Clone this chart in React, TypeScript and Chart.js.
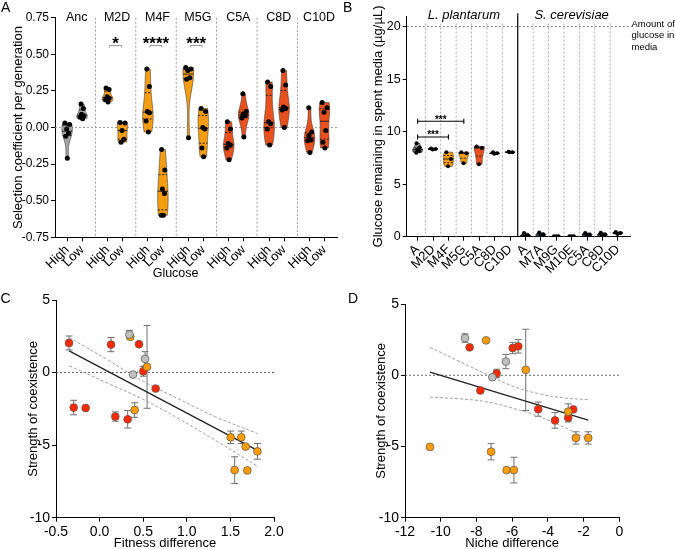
import React, { useEffect, useRef } from "react";
import { Chart, registerables } from "chart.js";

Chart.register(...registerables);

const FONT = "'Liberation Sans', Arial, Helvetica, sans-serif";
const W = 675;
const H = 570;

// ================= Panel A: selection coefficient per generation =================
const aGroups = ["Anc", "M2D", "M4F", "M5G", "C5A", "C8D", "C10D"];
const aConditions = ["High", "Low"];
const ancHigh = [0.03, 0.02, -0.01, -0.04, -0.06, -0.21];
const ancLow = [0.16, 0.13, 0.09, 0.08, 0.07, 0.06];
const m2dHigh = [0.27, 0.26, 0.21, 0.2, 0.19, 0.175];
const m2dLow = [0.035, 0.03, -0.02, -0.08, -0.1];
const m4fHigh = [0.4, 0.28, 0.11, 0.1, 0.045, -0.03];
const m4fLow = [-0.15, -0.29, -0.42, -0.45, -0.6, -0.6];
const m5gHigh = [0.41, 0.4, 0.39, 0.34, 0.33, -0.07];
const m5gLow = [0.13, 0.11, 0.0, -0.01, -0.14, -0.2];
const c5aHigh = [0.04, -0.01, -0.11, -0.12, -0.14, -0.22];
const c5aLow = [0.23, 0.11, 0.09, 0.08, 0.065, -0.065];
const c8dHigh = [0.31, 0.28, 0.04, 0.025, -0.01, -0.12];
const c8dLow = [0.39, 0.29, 0.14, 0.13, 0.12, 0.0];
const c10dHigh = [0.135, -0.03, -0.055, -0.085, -0.09, -0.17];
const c10dLow = [0.17, 0.135, 0.105, -0.02, -0.1, -0.14];
const aSeries = [
  [ancHigh, ancLow],
  [m2dHigh, m2dLow],
  [m4fHigh, m4fLow],
  [m5gHigh, m5gLow],
  [c5aHigh, c5aLow],
  [c8dHigh, c8dLow],
  [c10dHigh, c10dLow],
];
const aSignificance = ["", "*", "****", "***", "", "", ""];
const aSignificanceLevel = 0.56;
const aYTicks = [-0.75, -0.5, -0.25, 0, 0.25, 0.5, 0.75];
const aXLabel = "Glucose";
const aYLabel = "Selection coefficient per generation";

// ================= Panel B: glucose remaining =================
const bStrains = ["A", "M2D", "M4F", "M5G", "C5A", "C8D", "C10D", "A", "M7A", "M9G", "M10E", "C5A", "C8D", "C10D"];
const bSpecies = ["L. plantarum", "S. cerevisiae"];
const bGlucose = [
  [8.9, 8.5, 8.3, 8.15, 8.0],
  [8.4, 8.35, 8.3],
  [8.05, 7.4, 6.7],
  [8.05, 7.95, 7.0],
  [8.6, 8.45, 6.9],
  [8.05, 7.95, 7.9],
  [8.1, 8.05, 8.05],
  [0.35, 0.12, 0.08],
  [0.4, 0.2, 0.1],
  [0.05, 0.05, 0.05],
  [0.04, 0.04, 0.04],
  [0.35, 0.2, 0.1],
  [0.38, 0.2, 0.1],
  [0.45, 0.35, 0.25],
];
const bMediaGlucose = 20;
const bMediaLabel = ["Amount of", "glucose in", "media"];
const bYTicks = [0, 5, 10, 15, 20];
const bBracketFrom = [0, 0];
const bBracketTo = [3, 2];
const bBracketLevel = [11, 9.5];
const bBracketLabel = ["***", "***"];
const bYLabel = "Glucose remaining in spent media (\u00b5g/\u00b5L)";

// ================= Panel C: fitness difference vs strength of coexistence =================
const cRedX = [-0.351, 0.131, 0.452, 0.501, 0.643, -0.297, -0.16, 0.18, 0.322];
const cRedY = [2.04, 1.93, 1.95, 0.09, -1.1, -2.41, -2.44, -3.03, -3.22];
const cRedErr = [0.48, 0.49, 0, 0.34, 0, 0.5, 0, 0.32, 0.6];
const cOrangeX = [0.352, 0.544, 0.402, 1.503, 1.625, 1.675, 1.81, 1.549, 1.694];
const cOrangeY = [2.46, 0.39, -2.58, -4.46, -4.46, -5.1, -5.43, -6.72, -6.74];
const cOrangeErr = [0, 2.85, 0.5, 0.43, 0.43, 0, 0.54, 0.92, 0.1];
const cGrayX = [0.341, 0.521, 0.383];
const cGrayY = [2.62, 0.94, -0.14];
const cGrayErr = [0.29, 0.5, 0];
const cFitX = [-0.35, 1.81];
const cFitY = [1.49, -5.36];
const cBandX = [-0.35, 0.1, 0.5, 0.9, 1.35, 1.81];
const cBandUpper = [2.42, 0.85, -0.6, -1.8, -3.1, -4.2];
const cBandLower = [0.47, -0.75, -1.85, -3.15, -4.75, -6.45];
const cXTicks = [-0.5, 0, 0.5, 1, 1.5, 2];
const cYTicks = [-10, -5, 0, 5];

// ================= Panel D: niche difference vs strength of coexistence =================
const dRedX = [-8.38, -5.97, -5.66, -6.87, -7.78, -4.54, -2.58, -2.86, -3.6];
const dRedY = [1.96, 1.91, 2.03, 0.12, -1.07, -2.38, -2.4, -2.98, -3.17];
const dRedErr = [0, 0.4, 0.47, 0.3, 0, 0.5, 0, 0.3, 0.55];
const dOrangeX = [-7.46, -5.24, -2.86, -2.43, -1.74, -10.6, -7.18, -6.31, -5.9];
const dOrangeY = [2.45, 0.38, -2.56, -4.4, -4.4, -5.03, -5.37, -6.66, -6.66];
const dOrangeErr = [0, 2.85, 0.55, 0.43, 0.43, 0, 0.57, 0.1, 0.9];
const dGrayX = [-8.64, -6.35, -7.11];
const dGrayY = [2.61, 0.96, -0.14];
const dGrayErr = [0.3, 0.5, 0];
const dFitX = [-10.6, -1.74];
const dFitY = [0.22, -3.15];
const dBandX = [-10.6, -9, -7.5, -6, -4.5, -3, -1.74];
const dBandUpper = [1.96, 1.0, 0.1, -0.75, -1.3, -1.6, -1.72];
const dBandLower = [-1.54, -1.65, -1.85, -2.3, -2.9, -3.7, -4.5];
const dXTicks = [-12, -10, -8, -6, -4, -2, 0];
const dYTicks = [-10, -5, 0, 5];

// ================= styles =================
const GRAY_V = "#a4a4a4";
const ORANGE_V = "#f59d10";
const RED_V = "#e8501e";
const aColors = [GRAY_V, ORANGE_V, ORANGE_V, ORANGE_V, RED_V, RED_V, RED_V];
const aOffsets = [0.3, 0.67];
const bColors = ["#8d8d8d", "#8d8d8d", ORANGE_V, ORANGE_V, RED_V, RED_V, "#555555", "#555555", "#8ccfe6", "#444444", "#444444", "#5a3fa6", "#5a3fa6", "#5a3fa6"];
const RED_P = "#ff2a00";
const ORANGE_P = "#ff9c00";
const GRAY_P = "#bfbfbf";
const JITTER = [-0.5, 0.5, -0.1, 0.3, -0.35, 0.12];
const FLAT_JITTER = [-0.45, 0, 0.45];

// ================= helpers =================
function violinProfile(values: number[]) {
  const n = values.length;
  const s = [...values].sort((a, b) => a - b);
  const min = s[0];
  const max = s[n - 1];
  const mean = values.reduce((a, v) => a + v, 0) / n;
  const sd = Math.sqrt(values.reduce((a, v) => a + (v - mean) ** 2, 0) / Math.max(1, n - 1));
  const bw = Math.max(0.9 * sd * Math.pow(n, -0.2), (max - min) * 0.08, 1e-4);
  const dens = (y: number) => values.reduce((a, v) => a + Math.exp(-0.5 * ((y - v) / bw) ** 2), 0);
  const steps = 48;
  const ys: number[] = [];
  const ds: number[] = [];
  for (let i = 0; i <= steps; i++) {
    const y = min + ((max - min) * i) / steps;
    ys.push(y);
    ds.push(dens(y));
  }
  const dmax = Math.max(...ds);
  const q = (p: number) => {
    const pos = (n - 1) * p;
    const lo = Math.floor(pos);
    const hi = Math.ceil(pos);
    return s[lo] + (s[hi] - s[lo]) * (pos - lo);
  };
  return {
    min,
    max,
    ys,
    ws: ds.map((d) => d / dmax),
    rel: (y: number) => dens(y) / dmax,
    q1: q(0.25),
    med: q(0.5),
    q3: q(0.75),
    flat: max - min < 1e-9,
  };
}

function jitterFor(values: number[], p: any, hw: number) {
  return values.map((v, i) => {
    if (p.flat) return FLAT_JITTER[i % FLAT_JITTER.length] * hw;
    return JITTER[i % JITTER.length] * hw * Math.max(0.3, p.rel(v));
  });
}

function drawViolin(ctx: any, xs: any, ys: any, xc: number, p: any, hw: number, fill: string) {
  if (p.flat) return;
  ctx.save();
  ctx.beginPath();
  p.ys.forEach((y: number, i: number) => {
    const px = xs.getPixelForValue(xc - hw * p.ws[i]);
    const py = ys.getPixelForValue(y);
    if (i === 0) ctx.moveTo(px, py);
    else ctx.lineTo(px, py);
  });
  for (let i = p.ys.length - 1; i >= 0; i--) {
    ctx.lineTo(xs.getPixelForValue(xc + hw * p.ws[i]), ys.getPixelForValue(p.ys[i]));
  }
  ctx.closePath();
  ctx.fillStyle = fill;
  ctx.fill();
  ctx.lineWidth = 0.7;
  ctx.strokeStyle = "rgba(60,60,60,0.85)";
  ctx.stroke();
  const line = (v: number, dash: number[]) => {
    const w = hw * p.rel(v);
    ctx.setLineDash(dash);
    ctx.beginPath();
    ctx.moveTo(xs.getPixelForValue(xc - w), ys.getPixelForValue(v));
    ctx.lineTo(xs.getPixelForValue(xc + w), ys.getPixelForValue(v));
    ctx.stroke();
  };
  ctx.strokeStyle = "#1a1a1a";
  ctx.lineWidth = 0.9;
  line(p.q1, [2, 1.5]);
  line(p.q3, [2, 1.5]);
  line(p.med, []);
  ctx.restore();
}

function drawText(ctx: any, s: string, x: number, y: number, font: string, align = "center", baseline = "middle", color = "#000") {
  ctx.save();
  ctx.font = font;
  ctx.fillStyle = color;
  ctx.textAlign = align;
  ctx.textBaseline = baseline;
  ctx.fillText(s, x, y);
  ctx.restore();
}

function dashedLine(ctx: any, x1: number, y1: number, x2: number, y2: number, color: string, dash: number[], width = 0.8) {
  ctx.save();
  ctx.strokeStyle = color;
  ctx.lineWidth = width;
  ctx.setLineDash(dash);
  ctx.beginPath();
  ctx.moveTo(x1, y1);
  ctx.lineTo(x2, y2);
  ctx.stroke();
  ctx.restore();
}

function drawErrorBars(chart: any) {
  const { ctx } = chart;
  const xs = chart.scales.x;
  const ys = chart.scales.y;
  chart.data.datasets.forEach((ds: any) => {
    if (!ds.errors) return;
    ds.data.forEach((p: any, i: number) => {
      const e = ds.errors[i];
      if (!e) return;
      const px = xs.getPixelForValue(p.x);
      const y1 = ys.getPixelForValue(p.y + e);
      const y2 = ys.getPixelForValue(p.y - e);
      ctx.save();
      ctx.strokeStyle = "#707070";
      ctx.lineWidth = 1;
      ctx.beginPath();
      ctx.moveTo(px, y1);
      ctx.lineTo(px, y2);
      ctx.moveTo(px - 3.5, y1);
      ctx.lineTo(px + 3.5, y1);
      ctx.moveTo(px - 3.5, y2);
      ctx.lineTo(px + 3.5, y2);
      ctx.stroke();
      ctx.restore();
    });
  });
}

type Area = { L: number; T: number; R: number; B: number };
function pinned(area: Area, yBox: number, xBox: number) {
  return {
    padding: { left: area.L - yBox, top: area.T, right: W - area.R, bottom: H - area.B - xBox },
  };
}

function axis(fontSize: number, tickValues: number[], extra: any = {}) {
  const { ticks: tickExtra, ...rest } = extra;
  return {
    type: "linear",
    grid: { display: true, drawOnChartArea: false, drawTicks: true, tickLength: 4, tickWidth: 1, color: "#000" },
    border: { display: true, color: "#000", width: 1 },
    afterBuildTicks: (s: any) => {
      s.ticks = tickValues.map((v) => ({ value: v }));
    },
    ticks: {
      color: "#000",
      font: { family: FONT, size: fontSize },
      padding: 2,
      autoSkip: false,
      minRotation: 0,
      maxRotation: 0,
      ...(tickExtra || {}),
    },
    ...rest,
  };
}

const baseOptions = {
  responsive: false,
  maintainAspectRatio: false,
  animation: false,
  devicePixelRatio: 1,
  events: [],
};
const basePlugins = { legend: { display: false }, tooltip: { enabled: false } };

function scatterSet(xs: number[], ys: number[], errs: number[], color: string) {
  return {
    data: xs.map((x, i) => ({ x, y: ys[i] })),
    errors: errs,
    pointRadius: 3.9,
    pointBackgroundColor: color,
    pointBorderColor: "#555555",
    pointBorderWidth: 0.7,
    showLine: false,
    order: 1,
  };
}

function lineSet(xs: number[], ys: number[], color: string, dash: number[], width: number, tension: number) {
  return {
    data: xs.map((x, i) => ({ x, y: ys[i] })),
    showLine: true,
    pointRadius: 0,
    borderColor: color,
    borderWidth: width,
    borderDash: dash,
    tension,
    fill: false,
    order: 5,
  };
}

// ================= Panel configs =================
function configA() {
  const hw = 0.13;
  const items: any[] = [];
  const pts: any[] = [];
  const xTicks: number[] = [];
  aSeries.forEach((pair, g) =>
    pair.forEach((vals, c) => {
      const x = g + aOffsets[c];
      xTicks.push(x);
      const p = violinProfile(vals);
      items.push({ x, p, color: aColors[g] });
      const j = jitterFor(vals, p, hw);
      vals.forEach((v, i) => pts.push({ x: x + j[i], y: v }));
    })
  );
  const area = { L: 55, T: 17.7, R: 337.8, B: 237.3 };
  const yBox = 44.8;
  const xBox = 42;
  return {
    type: "scatter",
    data: {
      datasets: [{ data: pts, pointRadius: 2.5, pointBackgroundColor: "#000", pointBorderWidth: 0 }],
    },
    options: {
      ...baseOptions,
      layout: pinned(area, yBox, xBox),
      plugins: basePlugins,
      scales: {
        x: axis(13, xTicks, {
          min: 0,
          max: 7,
          ticks: { callback: (_v: any, i: number) => aConditions[i % 2], minRotation: 45, maxRotation: 45, padding: 1 },
          afterFit: (s: any) => {
            s.height = xBox;
          },
        }),
        y: axis(12, aYTicks, {
          min: -0.75,
          max: 0.75,
          ticks: { callback: (v: any) => Number(v).toFixed(2) },
          title: { display: true, text: aYLabel, color: "#000", font: { family: FONT, size: 13, lineHeight: 1.2 }, padding: 0 },
          afterFit: (s: any) => {
            s.width = yBox;
          },
        }),
      },
    },
    plugins: [
      {
        id: "panelA",
        beforeDatasetsDraw(chart: any) {
          const { ctx, chartArea } = chart;
          const xs = chart.scales.x;
          const ys = chart.scales.y;
          const y0 = ys.getPixelForValue(0);
          dashedLine(ctx, chartArea.left, y0, chartArea.right, y0, "#8a8a8a", [2, 2]);
          for (let g = 1; g < aGroups.length; g++) {
            const px = xs.getPixelForValue(g);
            dashedLine(ctx, px, chartArea.top, px, chartArea.bottom, "#8a8a8a", [2, 2]);
          }
          items.forEach((it) => drawViolin(ctx, xs, ys, it.x, it.p, hw, it.color));
        },
        afterDatasetsDraw(chart: any) {
          const { ctx } = chart;
          const xs = chart.scales.x;
          const ys = chart.scales.y;
          aGroups.forEach((gName, g) => {
            drawText(ctx, gName, xs.getPixelForValue(g + 0.5) + 1.5, ys.getPixelForValue(0.75), `12.5px ${FONT}`);
            const sig = aSignificance[g];
            if (sig) {
              const x1 = xs.getPixelForValue(g + aOffsets[0]) + 2;
              const x2 = xs.getPixelForValue(g + aOffsets[1]) - 1;
              const py = ys.getPixelForValue(aSignificanceLevel);
              ctx.save();
              ctx.strokeStyle = "#9a9a9a";
              ctx.lineWidth = 1;
              ctx.beginPath();
              ctx.moveTo(x1, py + 2);
              ctx.lineTo(x1, py);
              ctx.lineTo(x2, py);
              ctx.lineTo(x2, py + 2);
              ctx.stroke();
              ctx.restore();
              drawText(ctx, sig, (x1 + x2) / 2, py + 3, `bold 17px ${FONT}`, "center", "alphabetic");
            }
          });
          drawText(ctx, aXLabel, 175.6, 273.3, `12.5px ${FONT}`);
          drawText(ctx, "A", 1, 12, `14px ${FONT}`, "left", "alphabetic");
        },
      },
    ],
  };
}

function configB() {
  const hw = 0.33;
  const items: any[] = [];
  const pts: any[] = [];
  const xTicks = bStrains.map((_s, i) => i);
  bGlucose.forEach((vals, i) => {
    const p = violinProfile(vals);
    items.push({ x: i, p, color: bColors[i] });
    const j = jitterFor(vals, p, hw);
    vals.forEach((v, k) => pts.push({ x: i + j[k], y: v }));
  });
  const area = { L: 406.7, T: 16.2, R: 630, B: 236.7 };
  const yBox = 36.2;
  const xBox = 50;
  return {
    type: "scatter",
    data: {
      datasets: [{ data: pts, pointRadius: 2, pointBackgroundColor: "#000", pointBorderWidth: 0 }],
    },
    options: {
      ...baseOptions,
      layout: pinned(area, yBox, xBox),
      plugins: basePlugins,
      scales: {
        x: axis(13, xTicks, {
          min: -0.71,
          max: 13.79,
          ticks: { callback: (_v: any, i: number) => bStrains[i], minRotation: 45, maxRotation: 45, padding: 1 },
          afterFit: (s: any) => {
            s.height = xBox;
          },
        }),
        y: axis(12.5, bYTicks, {
          min: 0,
          max: 21,
          title: { display: true, text: bYLabel, color: "#000", font: { family: FONT, size: 13, lineHeight: 1.2 }, padding: 0 },
          afterFit: (s: any) => {
            s.width = yBox;
          },
        }),
      },
    },
    plugins: [
      {
        id: "panelB",
        beforeDatasetsDraw(chart: any) {
          const { ctx, chartArea } = chart;
          const xs = chart.scales.x;
          const ys = chart.scales.y;
          const half = bStrains.length / 2;
          for (let i = 0; i < bStrains.length - 1; i++) {
            const px = xs.getPixelForValue(i + 0.5);
            if (i === half - 1) {
              dashedLine(ctx, px, chartArea.top - 3, px, chartArea.bottom, "#000", [], 1.2);
            } else {
              dashedLine(ctx, px, ys.getPixelForValue(20.3), px, chartArea.bottom, "#9a9a9a", [2, 2]);
            }
          }
          const y20 = ys.getPixelForValue(bMediaGlucose);
          dashedLine(ctx, chartArea.left, y20, chartArea.right + 1.5, y20, "#555", [2, 2]);
          items.forEach((it) => drawViolin(ctx, xs, ys, it.x, it.p, hw, it.color));
        },
        afterDatasetsDraw(chart: any) {
          const { ctx, chartArea } = chart;
          const xs = chart.scales.x;
          const ys = chart.scales.y;
          const half = bStrains.length / 2;
          drawText(ctx, bSpecies[0], xs.getPixelForValue((half - 1) / 2), 15, `italic 13px ${FONT}`);
          drawText(ctx, bSpecies[1], xs.getPixelForValue(half + (half - 1) / 2), 15, `italic 13px ${FONT}`);
          const y20 = ys.getPixelForValue(bMediaGlucose);
          bMediaLabel.forEach((s, i) => drawText(ctx, s, chartArea.right + 1.5, y20 - 2.7 + i * 11.8, `9.5px ${FONT}`, "left"));
          bBracketLevel.forEach((lvl, i) => {
            const x1 = xs.getPixelForValue(bBracketFrom[i]);
            const x2 = xs.getPixelForValue(bBracketTo[i]);
            const py = ys.getPixelForValue(lvl);
            ctx.save();
            ctx.strokeStyle = "#000";
            ctx.lineWidth = 1.1;
            ctx.beginPath();
            ctx.moveTo(x1, py + 2.5);
            ctx.lineTo(x1, py - 2.5);
            ctx.moveTo(x1, py);
            ctx.lineTo(x2, py);
            ctx.moveTo(x2, py + 2.5);
            ctx.lineTo(x2, py - 2.5);
            ctx.stroke();
            ctx.restore();
            drawText(ctx, bBracketLabel[i], (x1 + x2) / 2, py + 1.5, `bold 10px ${FONT}`, "center", "alphabetic");
          });
          drawText(ctx, "B", 343, 12, `14px ${FONT}`, "left", "alphabetic");
        },
      },
    ],
  };
}

function scatterPanel(opts: any) {
  const { area, yBox, xBox, xTicks, yTicks, xMin, xMax, yMin, yMax, xLabel, xFmt, letter, letterX, datasets } = opts;
  return {
    type: "scatter",
    data: { datasets },
    options: {
      ...baseOptions,
      layout: pinned(area, yBox, xBox),
      plugins: basePlugins,
      scales: {
        x: axis(14, xTicks, {
          min: xMin,
          max: xMax,
          ticks: { callback: xFmt },
          title: { display: true, text: xLabel, color: "#000", font: { family: FONT, size: 13, lineHeight: 1.2 }, padding: 0 },
          afterFit: (s: any) => {
            s.height = xBox;
          },
        }),
        y: axis(14, yTicks, {
          min: yMin,
          max: yMax,
          ticks: { callback: (v: any) => String(v) },
          title: { display: true, text: "Strength of coexistence", color: "#000", font: { family: FONT, size: 13, lineHeight: 1.2 }, padding: 0 },
          afterFit: (s: any) => {
            s.width = yBox;
          },
        }),
      },
    },
    plugins: [
      {
        id: "scatterDecor",
        beforeDatasetsDraw(chart: any) {
          const { ctx, chartArea } = chart;
          const y0 = chart.scales.y.getPixelForValue(0);
          dashedLine(ctx, chartArea.left, y0, chartArea.right, y0, "#444", [2, 2]);
          drawErrorBars(chart);
        },
        afterDraw(chart: any) {
          drawText(chart.ctx, letter, letterX, 303, `14px ${FONT}`, "left", "alphabetic");
        },
      },
    ],
  };
}

function configC() {
  return scatterPanel({
    area: { L: 56, T: 300, R: 274, B: 517.7 },
    yBox: 30.5,
    xBox: 33.1,
    xTicks: cXTicks,
    yTicks: cYTicks,
    xMin: -0.5,
    xMax: 2,
    yMin: -10,
    yMax: 5,
    xLabel: "Fitness difference",
    xFmt: (v: any) => Number(v).toFixed(1),
    letter: "C",
    letterX: 0.5,
    datasets: [
      scatterSet(cGrayX, cGrayY, cGrayErr, GRAY_P),
      scatterSet(cOrangeX, cOrangeY, cOrangeErr, ORANGE_P),
      scatterSet(cRedX, cRedY, cRedErr, RED_P),
      lineSet(cFitX, cFitY, "#222", [], 1.3, 0),
      lineSet(cBandX, cBandUpper, "#a0a0a0", [3, 2], 1, 0.4),
      lineSet(cBandX, cBandLower, "#a0a0a0", [3, 2], 1, 0.4),
    ],
  });
}

function configD() {
  return scatterPanel({
    area: { L: 405, T: 304, R: 619.3, B: 517.7 },
    yBox: 31.1,
    xBox: 33.1,
    xTicks: dXTicks,
    yTicks: dYTicks,
    xMin: -12,
    xMax: 0,
    yMin: -10,
    yMax: 5,
    xLabel: "Niche difference",
    xFmt: (v: any) => String(v),
    letter: "D",
    letterX: 348,
    datasets: [
      scatterSet(dGrayX, dGrayY, dGrayErr, GRAY_P),
      scatterSet(dOrangeX, dOrangeY, dOrangeErr, ORANGE_P),
      scatterSet(dRedX, dRedY, dRedErr, RED_P),
      lineSet(dFitX, dFitY, "#222", [], 1.3, 0),
      lineSet(dBandX, dBandUpper, "#a0a0a0", [3, 2], 1, 0.4),
      lineSet(dBandX, dBandLower, "#a0a0a0", [3, 2], 1, 0.4),
    ],
  });
}

function ChartCanvas({ make }: { make: () => any }) {
  const ref = useRef<HTMLCanvasElement | null>(null);
  useEffect(() => {
    if (!ref.current) return;
    const chart = new Chart(ref.current, make());
    return () => chart.destroy();
  }, []);
  return <canvas ref={ref} width={W} height={H} style={{ position: "absolute", left: 0, top: 0, width: W, height: H }} />;
}

export default function App() {
  useEffect(() => {
    document.body.style.margin = "0";
    document.body.style.background = "#fff";
  }, []);
  return (
    <div style={{ position: "fixed", left: 0, top: 0, width: 675, height: 549, overflow: "hidden", background: "#fff" }}>
      <ChartCanvas make={configA} />
      <ChartCanvas make={configB} />
      <ChartCanvas make={configC} />
      <ChartCanvas make={configD} />
    </div>
  );
}
